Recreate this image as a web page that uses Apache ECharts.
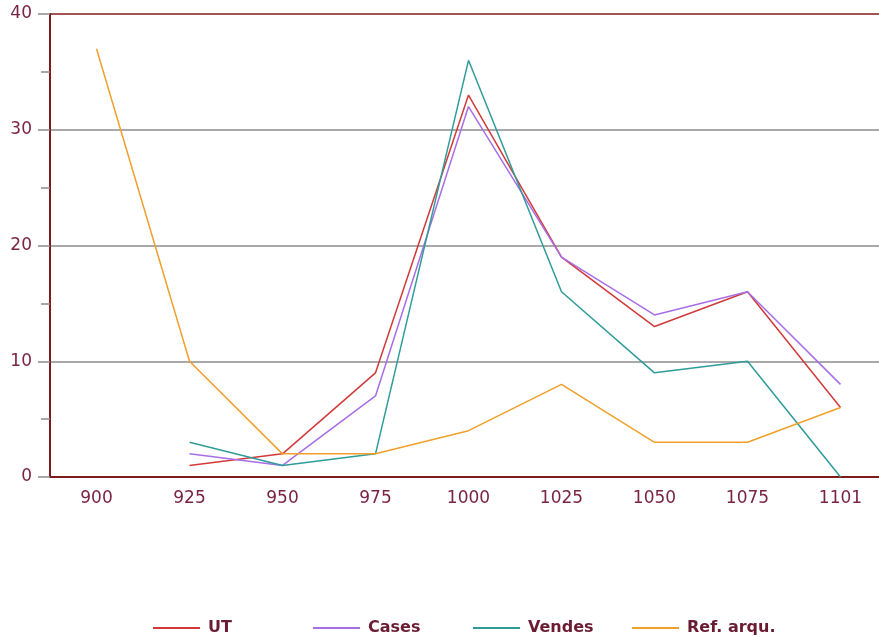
<!DOCTYPE html>
<html>
<head>
<meta charset="utf-8">
<script src="https://cdn.jsdelivr.net/npm/echarts@6/dist/echarts.min.js"></script>
<style>html,body{margin:0;padding:0;background:#fff;}#c{width:879px;height:637px;}</style>
</head>
<body>
<div id="c"></div>
<script>
var categories = ['900','925','950','975','1000','1025','1050','1075','1101'];
var utValues = [null, 1, 2, 9, 33, 19, 13, 16, 6];
var casesValues = [null, 2, 1, 7, 32, 19, 14, 16, 8];
var vendesValues = [null, 3, 1, 2, 36, 16, 9, 10, 0];
var refValues = [37, 10, 2, 2, 4, 8, 3, 3, 6];
var seriesNames = ['UT', 'Cases', 'Vendes', 'Ref. arqu.'];

var chart = echarts.init(document.getElementById('c'));
var labelColor = '#7a2444';
var axisRed = '#7f1a1a';
var grayC = '#8c8c8c';
function mk(name, data, color) {
  return { name: name, type: 'line', data: data, symbol: 'none', showSymbol: false,
    lineStyle: { color: color, width: 1.5 }, itemStyle: { color: color } };
}
var legendLefts = [153, 313, 473, 632];
var legends = seriesNames.map(function (n, i) {
  return {
    left: legendLefts[i], top: 620, padding: 0, itemWidth: 47, itemHeight: 2,
    icon: 'rect', data: [n],
    textStyle: { color: '#6a1c34', fontWeight: 'bold', fontSize: 16, fontFamily: 'DejaVu Sans', padding: [0,0,0,3] }
  };
});
chart.setOption({
  animation: false,
  backgroundColor: '#fff',
  textStyle: { fontFamily: 'DejaVu Sans' },
  grid: { left: 50, top: 14, width: 837, height: 463, containLabel: false, outerBoundsMode: 'none' },
  legend: legends,
  xAxis: [{
    type: 'category', data: categories, boundaryGap: true,
    axisLine: { lineStyle: { color: axisRed, width: 2 } },
    axisTick: { alignWithLabel: true, length: 10, lineStyle: { color: grayC, width: 1.5 } },
    axisLabel: { color: labelColor, fontSize: 17, margin: 13, fontFamily: 'DejaVu Sans' },
    splitLine: { show: false }
  }, {
    type: 'category', data: categories, boundaryGap: true, position: 'bottom',
    axisLine: { show: false },
    axisTick: { alignWithLabel: true, inside: true, length: 7, lineStyle: { color: grayC, width: 1.5 } },
    axisLabel: { show: false },
    splitLine: { show: false }
  }],
  yAxis: [{
    type: 'value', min: 0, max: 40, interval: 10,
    axisLine: { show: true, lineStyle: { color: axisRed, width: 2 } },
    axisTick: { show: true, length: 12, lineStyle: { color: grayC, width: 1.5 } },
    minorTick: { show: true, splitNumber: 2, length: 9, lineStyle: { color: grayC, width: 1.5 } },
    axisLabel: { color: labelColor, fontSize: 17, margin: 18, fontFamily: 'DejaVu Sans' },
    splitLine: { show: true, lineStyle: { color: [axisRed, grayC, grayC, grayC, axisRed], width: 1.5 } }
  }, {
    type: 'value', min: 0, max: 40, interval: 10, position: 'left',
    axisLine: { show: false },
    axisTick: { show: false },
    minorTick: { show: true, splitNumber: 2, length: 5, lineStyle: { color: grayC, width: 1.5 } },
    axisLabel: { show: false, inside: true },
    splitLine: { show: false }
  }],
  series: [
    mk(seriesNames[0], utValues, '#d23a3a'),
    mk(seriesNames[1], casesValues, '#a86ee6'),
    mk(seriesNames[2], vendesValues, '#2f9c9a'),
    mk(seriesNames[3], refValues, '#f0a02a')
  ]
});
</script>
</body>
</html>
